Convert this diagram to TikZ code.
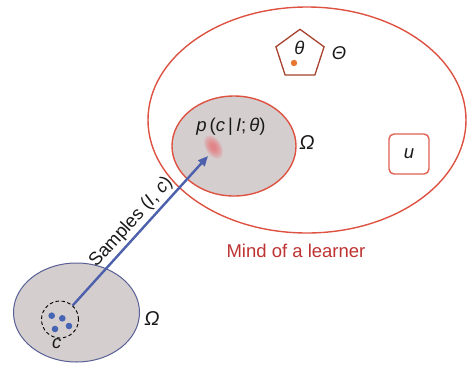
\documentclass[tikz,border=0pt]{standalone}
\usepackage{fontspec}
\setmainfont{Liberation Sans}
\usetikzlibrary{shapes.geometric,arrows.meta}
\definecolor{redline}{RGB}{222,82,66}
\definecolor{boxred}{RGB}{224,96,82}
\definecolor{pentred}{RGB}{168,66,46}
\definecolor{fillgray}{RGB}{213,206,206}
\definecolor{blueline}{RGB}{88,96,150}
\definecolor{arrowblue}{RGB}{76,96,172}
\definecolor{dotblue}{RGB}{70,100,180}
\definecolor{dotorange}{RGB}{230,118,50}
\definecolor{mindred}{RGB}{190,50,50}
\definecolor{blobred}{RGB}{240,90,100}
\definecolor{txt}{RGB}{25,25,25}
\tikzset{
  lbl/.style={text=txt, font=\fontsize{18.5}{22}\selectfont, inner sep=0pt},
  biglbl/.style={text=txt, font=\fontsize{20}{24}\selectfont, inner sep=0pt},
  region/.style={ellipse, fill=fillgray, inner sep=0pt},
  bdot/.style={dotblue},
}
\begin{document}
\begin{tikzpicture}[x=1pt,y=-1pt]
\useasboundingbox (0,0) rectangle (467,365);
% mind of a learner
\node[ellipse, draw=redline, line width=1.4pt, minimum width=318pt, minimum height=226pt, inner sep=0pt] (mind) at (307,120) {};
\node[region, draw=redline, line width=1.4pt, minimum width=124pt, minimum height=100pt] (post) at (234,146) {};
\foreach \s in {1,0.9,0.8,0.7,0.6,0.5,0.4,0.3}
  \fill[blobred, opacity=0.11] (213.5,147) ellipse [x radius=8*\s, y radius=13*\s, rotate=32];
\node[lbl] (ptext) at (231,127) {\textit{p}\,(\textit{c}\,|\,\textit{I};\,\textit{θ})};
\node[biglbl] (omega1) at (307,143) {\textit{Ω}};
% pentagon
\node[regular polygon, regular polygon sides=5, draw=pentred, line width=1.3pt, minimum size=50.6pt, inner sep=0pt] (theta) at (300,54.6) {};
\node[lbl] (thetatext) at (299.5,47.5) {\textit{θ}};
\fill[dotorange] (294,63) circle [radius=3.2];
\node[lbl] (Theta) at (339,53) {\textit{Θ}};
% u box
\node[draw=boxred, rounded corners=5pt, line width=1.4pt, minimum size=40pt, inner sep=0pt, lbl, text=txt] (ubox) at (409,154) {\textit{u}};
\node[lbl, text=mindred] (mindlabel) at (296,251) {Mind of a learner};
% world
\node[region, draw=blueline, line width=1pt, minimum width=126pt, minimum height=99pt] (world) at (76.5,312.5) {};
\node[circle, draw=black, dashed, dash pattern=on 3.5pt off 2.5pt, line width=0.9pt, minimum size=37pt, inner sep=0pt] (cset) at (60,319.5) {};
\fill[bdot] (51.7,315.7) circle [radius=3.3];
\fill[bdot] (62.3,318.3) circle [radius=3.3];
\fill[bdot] (55,329) circle [radius=3.3];
\fill[bdot] (69,326) circle [radius=3.3];
\node[lbl] (clabel) at (56.7,344) {\textit{c}};
\node[biglbl] (omega2) at (152,319) {\textit{Ω}};
% arrow
\coordinate (tip) at (208,156);
\draw[arrowblue, line width=2.4pt, -{Triangle[length=10pt,width=8.5pt]}] (cset) -- (tip)
  node[midway, sloped, above, lbl, inner sep=2.5pt] {Samples (\textit{I}, \textit{c})};
\end{tikzpicture}
\end{document}
